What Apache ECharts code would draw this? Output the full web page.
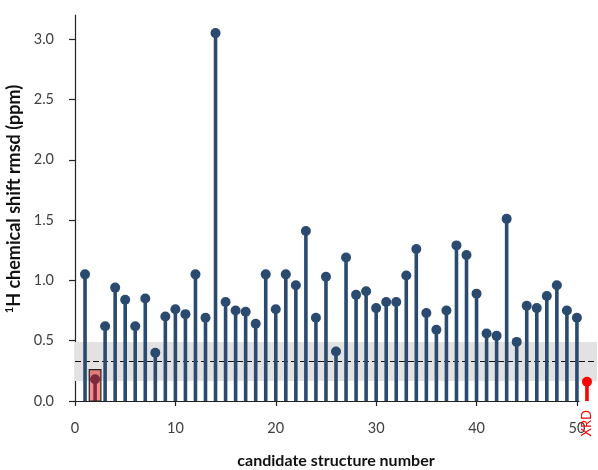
<!DOCTYPE html>
<html>
<head>
<meta charset="utf-8">
<script src="https://cdn.jsdelivr.net/npm/echarts@6.0.0/dist/echarts.min.js"></script>
<style>html,body{margin:0;padding:0;background:#fff}#c{width:598px;height:470px}</style>
</head>
<body>
<div id="c"></div>
<script>
// ---- data ----
var structureIds = [1,2,3,4,5,6,7,8,9,10,11,12,13,14,15,16,17,18,19,20,21,22,23,24,25,26,27,28,29,30,31,32,33,34,35,36,37,38,39,40,41,42,43,44,45,46,47,48,49,50];
var rmsdValues = [1.05,0.18,0.62,0.94,0.84,0.62,0.85,0.40,0.70,0.76,0.72,1.05,0.69,3.05,0.82,0.75,0.74,0.64,1.05,0.76,1.05,0.96,1.41,0.69,1.03,0.41,1.19,0.88,0.91,0.77,0.82,0.82,1.04,1.26,0.73,0.59,0.75,1.29,1.21,0.89,0.56,0.54,1.51,0.49,0.79,0.77,0.87,0.96,0.75,0.69];
var xrdPosition = 51;
var xrdValue = 0.16;
var xrdLabel = 'XRD';
var highlightedId = 2;
var highlightTop = 0.26;
var bandLow = 0.165;
var bandHigh = 0.49;
var dashedLevel = 0.325;
var xTickValues = [0,10,20,30,40,50];
var yTickValues = [0,0.5,1.0,1.5,2.0,2.5,3.0];
var xAxisTitle = 'candidate structure number';
var yAxisTitle = '{sup|1}H chemical shift rmsd (ppm)';

var stemData = structureIds.map(function(id, i){ return [id, rmsdValues[i]]; });
var NAVY = '#2b4a6f';
var FONT = 'Lato';

var chart = echarts.init(document.getElementById('c'), null, {renderer:'canvas'});
chart.setOption({
  animation: false,
  backgroundColor: '#fff',
  grid: {left: 75, right: 1, top: 15, bottom: 69, containLabel: false, outerBoundsMode: 'none'},
  xAxis: [{
    type: 'value', min: 0, max: 52,
    axisLine: {show: false},
    axisTick: {show: true, customValues: xTickValues, length: 5, lineStyle: {color: '#222', width: 1.2}},
    axisLabel: {customValues: xTickValues, margin: 20, fontFamily: FONT, fontSize: 14.5, color: '#404040'},
    splitLine: {show: false},
    name: xAxisTitle, nameLocation: 'middle', nameGap: 52,
    nameTextStyle: {fontFamily: FONT, fontSize: 16, fontWeight: 'bold', color: '#111'}
  }, {
    type: 'value', min: 0, max: 52, position: 'bottom',
    axisLine: {show: false}, axisTick: {show: false}, splitLine: {show: false},
    axisLabel: {customValues: [xrdPosition], rotate: 90, margin: 9, fontFamily: FONT, fontSize: 13, color: '#ff0000',
      formatter: function(){ return xrdLabel; }}
  }],
  yAxis: {
    type: 'value', min: 0, max: 3.2,
    axisLine: {show: true, lineStyle: {color: '#222', width: 1.2}},
    axisTick: {show: true, customValues: yTickValues, length: 6, lineStyle: {color: '#222', width: 1.2}},
    axisLabel: {customValues: yTickValues, margin: 21, fontFamily: FONT, fontSize: 14.5, color: '#404040',
      formatter: function(v){ return v.toFixed(1); }},
    splitLine: {show: false},
    name: yAxisTitle, nameLocation: 'middle', nameGap: 45, nameRotate: 90,
    nameTextStyle: {fontFamily: FONT, fontSize: 18, fontWeight: 'bold', color: '#111', padding: [0, 0, 0, 18],
      rich: {sup: {fontFamily: FONT, fontSize: 11, fontWeight: 'bold', color: '#111', padding: [0,0,8,0]}}}
  },
  series: [
    {
      type: 'bar', name: 'stems', data: stemData, barWidth: 3.6, z: 3,
      itemStyle: {color: NAVY},
      markArea: {
        silent: true, z: 1,
        itemStyle: {color: '#e2e2e2'},
        data: [[{yAxis: bandLow}, {yAxis: bandHigh}]]
      },
      markLine: {
        silent: true, symbol: 'none', z: 2,
        lineStyle: {color: '#111', type: [6, 3], width: 1.1},
        label: {show: false},
        data: [{yAxis: dashedLevel}]
      }
    },
    {
      type: 'scatter', name: 'heads', data: stemData, symbolSize: 10, z: 4,
      itemStyle: {color: NAVY, opacity: 1}
    },
    {
      type: 'bar', name: 'xrd', data: [[xrdPosition, xrdValue]], barWidth: 3.6, z: 3, barGap: '-100%',
      itemStyle: {color: '#ff0000'}
    },
    {
      type: 'scatter', name: 'xrdHead', data: [[xrdPosition, xrdValue]], symbolSize: 10, z: 4,
      itemStyle: {color: '#ff0000', opacity: 1},
      markLine: {
        silent: true, symbol: 'none', z: 6,
        lineStyle: {color: '#222', type: 'solid', width: 1.2},
        label: {show: false},
        data: [[{coord: [0, 0]}, {coord: [50.25, 0]}]]
      },
      markArea: {
        silent: true, z: 10,
        itemStyle: {color: 'rgba(230,0,0,0.45)', borderColor: '#222', borderWidth: 1.2},
        data: [[{coord: [highlightedId - 0.58, 0]}, {coord: [highlightedId + 0.58, highlightTop]}]]
      }
    }
  ]
});
</script>
</body>
</html>
